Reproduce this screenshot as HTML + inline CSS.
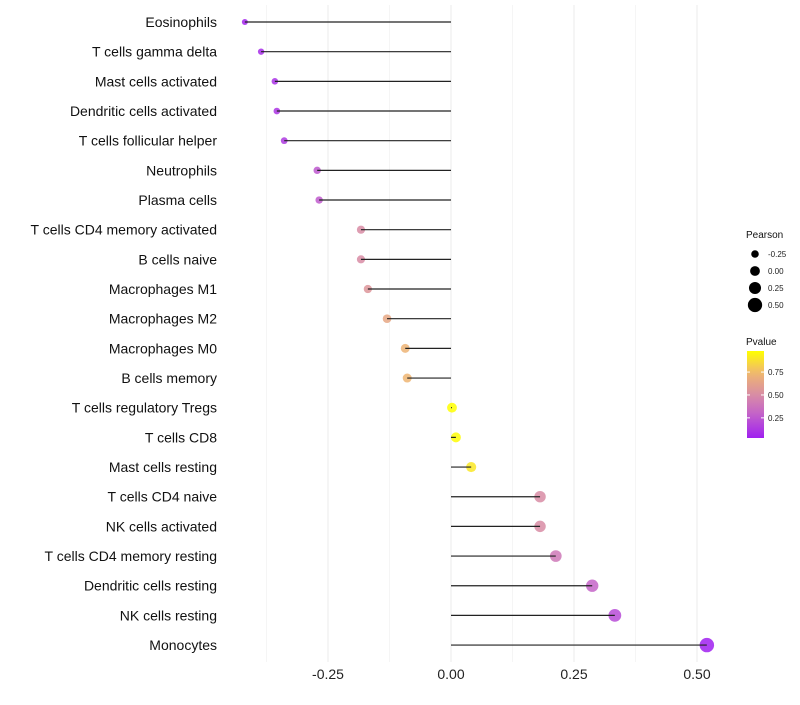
<!DOCTYPE html>
<html><head><meta charset="utf-8"><style>
body{margin:0;background:#fff;font-family:"Liberation Sans",sans-serif}
svg text{font-family:"Liberation Sans",sans-serif}
</style></head><body>
<svg id="c" width="800" height="700"></svg>
<script>
const categories=["Eosinophils","T cells gamma delta","Mast cells activated","Dendritic cells activated","T cells follicular helper","Neutrophils","Plasma cells","T cells CD4 memory activated","B cells naive","Macrophages M1","Macrophages M2","Macrophages M0","B cells memory","T cells regulatory  Tregs ","T cells CD8","Mast cells resting","T cells CD4 naive","NK cells activated","T cells CD4 memory resting","Dendritic cells resting","NK cells resting","Monocytes"];
const pearson=[-0.419,-0.386,-0.358,-0.354,-0.339,-0.272,-0.268,-0.183,-0.183,-0.169,-0.130,-0.093,-0.089,0.002,0.010,0.041,0.181,0.181,0.213,0.287,0.333,0.520];
const pvalue=[0.05,0.08,0.1,0.11,0.13,0.25,0.26,0.5,0.5,0.55,0.65,0.72,0.73,0.99,0.97,0.9,0.5,0.5,0.4,0.3,0.2,0.03];
const xTicks=[-0.25,0,0.25,0.5];
const xTickLabels=["-0.25","0.00","0.25","0.50"];
const sizeLegend=[-0.25,0,0.25,0.5];
const colorTicks=[0.25,0.5,0.75];

const NS="http://www.w3.org/2000/svg",svg=document.getElementById('c');
function mk(t,a,txt){const e=document.createElementNS(NS,t);for(const k in a)e.setAttribute(k,a[k]);if(txt!=null)e.textContent=txt;svg.appendChild(e);return e;}
const x=v=>451+v*492;
const y=i=>22+i*29.67;
const r=v=>4.9+v*4.5;
function lerp(a,b,t){return a.map((c,i)=>Math.round(c+(b[i]-c)*t));}
const stops=[[0.03,[160,32,240]],[0.3,[196,100,200]],[0.5,[216,140,165]],[0.75,[240,185,110]],[0.98,[255,255,0]]];
function col(p){p=Math.max(0.03,Math.min(0.98,p));for(let k=0;k<stops.length-1;k++){const a=stops[k],b=stops[k+1];if(p<=b[0]){return `rgb(${lerp(a[1],b[1],(p-a[0])/(b[0]-a[0]))})`;}}return 'rgb(255,255,0)';}
for(let v=-0.375;v<=0.5;v+=0.125){const g=mk('line',{x1:x(v),x2:x(v),y1:5,y2:662,stroke:'#ebebeb','stroke-width':Math.abs(v*8%2)<1e-6?1:0.5});
}
xTicks.forEach((v,i)=>{const t=mk('text',{x:x(v),y:679,'text-anchor':'middle','font-size':14,fill:'#222'},xTickLabels[i]);
});
categories.forEach((c,i)=>{
 const t=mk('text',{x:217,y:y(i)+5,'text-anchor':'end','font-size':14,fill:'#111'},c);
 
 const p=mk('circle',{cx:x(pearson[i]),cy:y(i),r:r(pearson[i]),fill:col(pvalue[i]),'fill-opacity':0.85});
 
 const l=mk('line',{x1:x(0),x2:x(pearson[i]),y1:y(i),y2:y(i),stroke:'#222','stroke-width':1.2});
 
});
let t=mk('text',{x:746,y:238,'font-size':10,fill:'#111'},'Pearson');

sizeLegend.forEach((v,i)=>{const cy=254+i*17;
 const c=mk('circle',{cx:755,cy:cy,r:r(v),fill:'#000'});
 const tt=mk('text',{x:768,y:cy+3,'font-size':8,fill:'#222'},v.toFixed(2));});
t=mk('text',{x:746,y:345,'font-size':10,fill:'#111'},'Pvalue');

const defs=mk('defs',{});const lg=document.createElementNS(NS,'linearGradient');lg.setAttribute('id','g');lg.setAttribute('x1',0);lg.setAttribute('x2',0);lg.setAttribute('y1',1);lg.setAttribute('y2',0);
for(let k=0;k<=10;k++){const s=document.createElementNS(NS,'stop');s.setAttribute('offset',k/10);s.setAttribute('stop-color',col(0.03+0.95*k/10));lg.appendChild(s);}defs.appendChild(lg);
const bar=mk('rect',{x:747,y:351,width:17,height:87,fill:'url(#g)'});
const cy=v=>438-(v-0.03)/0.95*87;
colorTicks.forEach(v=>{mk('line',{x1:747,x2:750,y1:cy(v),y2:cy(v),stroke:'#fff'});mk('line',{x1:761,x2:764,y1:cy(v),y2:cy(v),stroke:'#fff'});
 const tt=mk('text',{x:768,y:cy(v)+3,'font-size':8,fill:'#222'},v.toFixed(2));});
</script>
</body></html>
